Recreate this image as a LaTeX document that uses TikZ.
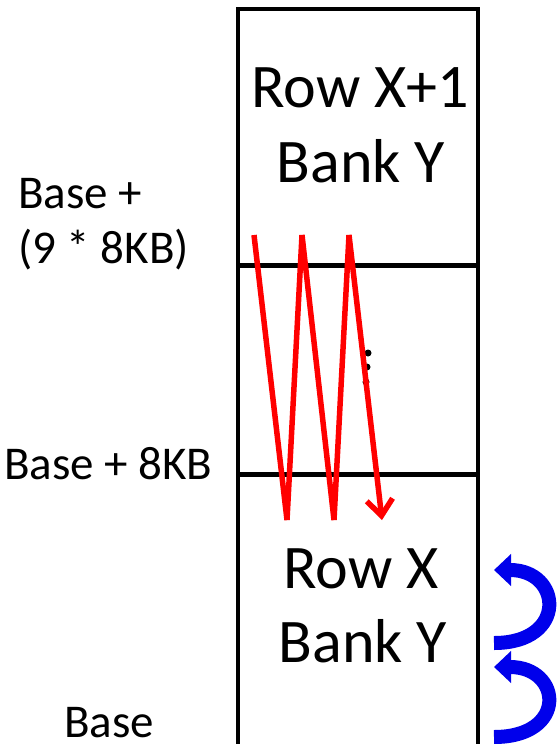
\documentclass[tikz,border=0pt]{standalone}
\usepackage{fontspec}
\setmainfont{Carlito}
\usepackage{tikz}
\usetikzlibrary{arrows.meta,positioning}
\definecolor{zigred}{RGB}{255,0,0}
\definecolor{loopblue}{RGB}{0,0,235}
\tikzset{
  cell/.style={
    draw=black,
    line width=4.5pt,
    minimum width=240pt,
    inner sep=0pt
  },
  bigtext/.style={anchor=base, inner sep=0pt, font=\fontsize{62}{74}\selectfont},
  addrtext/.style={anchor=base west, inner sep=0pt, font=\fontsize{47}{55}\selectfont},
  zigzag/.style={draw=zigred, line width=5.5pt, line join=bevel,
    -{Straight Barb[length=16pt,width=26pt,line width=5.5pt]}},
  loop/.style={draw=loopblue, line width=14pt,
    -{Triangle[length=17pt,width=31pt]}}
}

\begin{document}
\begin{tikzpicture}[x=1pt,y=-1pt]
        \useasboundingbox (0,0) rectangle (558,744);
        \node[cell, minimum height=256.5pt] (upper) at (358,137.25) {};
        \node[cell, minimum height=209pt] (middle) at (358,370) {};
        \node[cell, minimum height=271.5pt] (lower) at (358,610.25) {};
        \node[bigtext] (rowa) at (360,107) {Row X+1};
        \node[bigtext] (banka) at (361,182) {Bank Y};
        \node[bigtext] (rowb) at (361,588) {Row X};
        \node[bigtext] (bankb) at (363,662) {Bank Y};
        \node[addrtext] (topaddr) at (18,208) {Base +};
        \node[addrtext] (topaddrb) at (18,263) {(9 * 8KB)};
        \node[addrtext] (midaddr) at (4,479) {Base + 8KB};
        \node[addrtext] (baseaddr) at (64,737) {Base};
        \foreach \yy/\xx in {353/368,367/367,382/366}
          \fill[black] (\xx,\yy) circle (3.5pt);
        \coordinate (za) at (254,235);
        \coordinate (zb) at (287,520);
        \coordinate (zc) at (302,235);
        \coordinate (zd) at (334,520);
        \coordinate (ze) at (349,235);
        \coordinate (zf) at (382,520);
        \draw[zigzag] (za) -- (zb) -- (zc) -- (zd) -- (ze) -- (zf);
        \coordinate (loopa) at (494,643);
        \coordinate (loopb) at (494,737);
        \draw[loop] (loopa) .. controls (568,643) and (562,570) .. (494,570);
        \draw[loop] (loopb) .. controls (568,737) and (562,667) .. (494,667);
      \end{tikzpicture}
\end{document}
